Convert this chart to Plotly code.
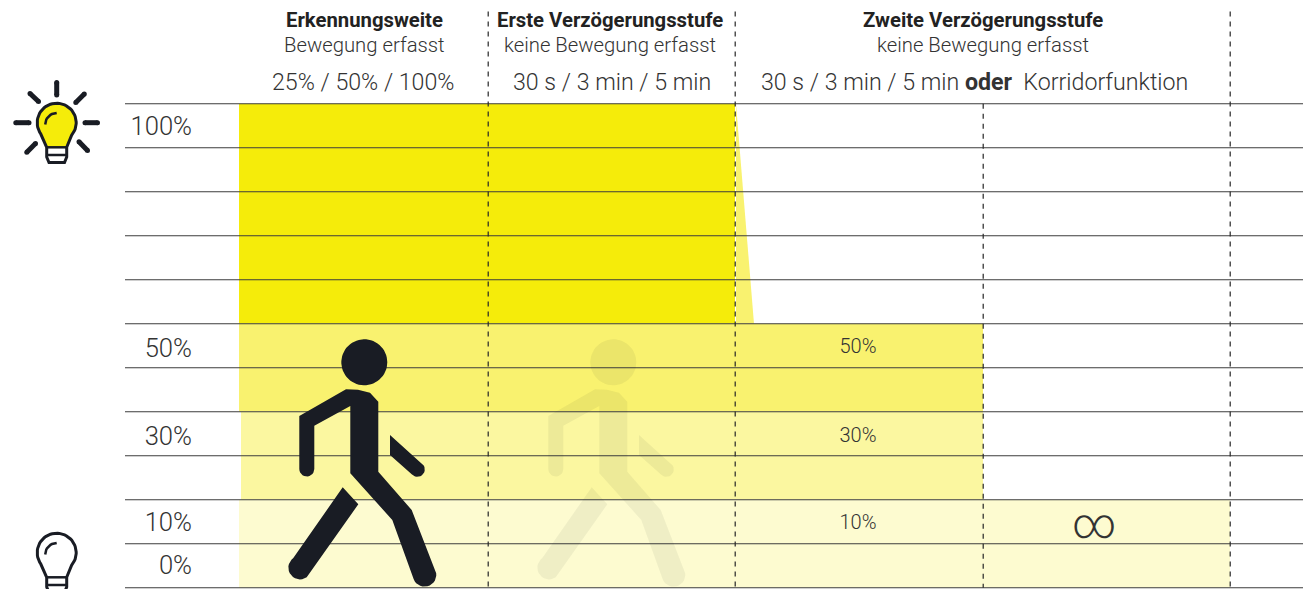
import numpy as np
import plotly.graph_objects as go

# --- data -------------------------------------------------------------
level_ticks = [100, 50, 30, 10, 0]
tick_labels = ["100%", "50%", "30%", "10%", "0%"]
tick_y = [94.3, 43.9, 23.9, 4.4, -5.5]
grid_levels = [100, 90, 80, 70, 60, 50, 40, 30, 20, 10, 0, -10]

band_start = [239, 239, 241, 239]
band_end = [735, 983, 983, 1230]
band_top = [100, 50, 30, 10]
band_bottom = [50, 30, 10, -10]
band_colors = ["#F5EC0A", "#F9F26F", "#FBF7A0", "#FDFBD0"]

fade_x = [736, 754, 736]
fade_y = [100, 50, 50]

inner_labels = ["50%", "30%", "10%"]
inner_y = [44.5, 24.3, 4.6]

dash_x = [488.2, 735.2, 1230.2, 983.2]
dash_top = [121, 121, 121, 100]

col_center = [364, 610, 983]
col_title = ["Erkennungsweite", "Erste Verzögerungsstufe", "Zweite Verzögerungsstufe"]
col_sub = ["Bewegung erfasst", "keine Bewegung erfasst", "keine Bewegung erfasst"]
col_detail = ["25% / 50% / 100%", "30 s / 3 min / 5 min",
              "30 s / 3 min / 5 min <b>oder</b>  Korridorfunktion"]
col_detail_x = [363, 612, 974]

FONT = "Roboto"
TXT = "#333333"
DARK = "#191C24"


def arc(cx, cy, r, a0, a1, n=24):
    t = np.radians(np.linspace(a0, a1, n))
    return list(cx + r * np.cos(t)), list(cy + r * np.sin(t))


def person(dx=0):
    parts = []
    hx, hy = arc(364.3, 362.3, 23, 0, 360, 60)
    parts.append((hx, hy))
    # body + rear arm + leading leg
    cx1, cy1 = arc(306.8, 469, 7.5, 0, 180, 14)
    cx2, cy2 = arc(424.6, 575, 11.7, -20, 160, 16)
    bx = [299.3, 346, 358, 370, 378.3, 378.3, 411.7] + cx2 + [392.3, 350.3, 350.3, 314.3] + cx1
    by = [416, 389.3, 389.8, 392.7, 401.7, 471.7, 510] + cy2 + [520, 473.3, 406, 425.7] + cy1
    parts.append((bx, by))
    # front arm
    ax, ay = arc(417.3, 469.3, 7.5, -45, 135, 14)
    parts.append(([390] + ax + [390], [435] + ay + [455]))
    # trailing leg
    lx, ly = arc(300, 567.7, 11.7, 55, 235, 16)
    parts.append(([342.7, 358.3] + lx, [487.3, 504.3] + ly))
    xs, ys = [], []
    for px, py in parts:
        xs += [v + dx for v in px] + [px[0] + dx, None]
        ys += list(py) + [py[0], None]
    return xs, ys


def bulb(dy=0):
    hx, hy = arc(56.7, 122.7, 19.5, 140, 400, 50)
    x = [46.7] + hx + [66.7, 66.7, 64.5, 49, 46.7, 46.7]
    y = [147.3] + hy + [147.3, 157, 162.5, 162.5, 157, 147.3]
    return x, [v + dy for v in y]


def bulb_head(dy=0):
    hx, hy = arc(56.7, 122.7, 19.5, 140, 400, 50)
    return [46.7] + hx + [66.7, 46.7], [v + dy for v in [147.3] + hy + [147.3, 147.3]]


def divider(dy=0):
    return [46.7, 66.7], [155 + dy, 155 + dy]


def highlight(dy=0):
    hx, hy = arc(56.7, 124.5, 11.5, 180, 270, 12)
    return hx, [v + dy for v in hy]


rays = [((56.7, 82.5), (56.7, 95)), ((30, 93.5), (38.5, 101.5)), ((84.3, 94), (75.8, 102.5)),
        ((15.8, 122.7), (29, 122.7)), ((85, 122.7), (97.5, 122.7)),
        ((26.8, 152.2), (35.5, 143.5)), ((87.5, 150.5), (79, 141.8))]

fig = go.Figure()

# bands
for x0, x1, t, b, c in zip(band_start, band_end, band_top, band_bottom, band_colors):
    fig.add_trace(go.Scatter(x=[x0, x1, x1, x0, x0], y=[t, t, b, b, t], mode="lines",
                             line=dict(width=0), fill="toself", fillcolor=c, hoverinfo="skip"))
fig.add_trace(go.Scatter(x=fade_x + fade_x[:1], y=fade_y + fade_y[:1], mode="lines",
                         line=dict(width=0), fill="toself", fillcolor=band_colors[1], hoverinfo="skip"))

# persons
for dx, op in [(249, 0.06), (0, 1)]:
    px, py = person(dx)
    fig.add_trace(go.Scatter(x=px, y=py, xaxis="x2", yaxis="y2", mode="lines", line=dict(width=0),
                             fill="toself", fillcolor=DARK, opacity=op, hoverinfo="skip"))

# grid lines
gx, gy = [], []
for v in grid_levels:
    gx += [125, 1303, None]
    gy += [v, v, None]
fig.add_trace(go.Scatter(x=gx, y=gy, mode="lines", line=dict(color="#3c3c3c", width=1.1), hoverinfo="skip"))

# dashed separators
for x, t in zip(dash_x, dash_top):
    fig.add_trace(go.Scatter(x=[x, x], y=[t, -10], mode="lines",
                             line=dict(color="#262626", width=1.2, dash="5px,5px"), hoverinfo="skip"))

# bulb icons
for dy, fill in [(0, "#F5EC0A"), (430, "rgba(0,0,0,0)")]:
    hx, hy = bulb_head(dy)
    fig.add_trace(go.Scatter(x=hx, y=hy, xaxis="x2", yaxis="y2", mode="lines", line=dict(width=0),
                             fill="toself", fillcolor=fill, hoverinfo="skip"))
    ox, oy = bulb(dy)
    fig.add_trace(go.Scatter(x=ox, y=oy, xaxis="x2", yaxis="y2", mode="lines",
                             line=dict(color=DARK, width=3), hoverinfo="skip"))
    fig.add_trace(go.Scatter(x=[46.7, 66.7], y=[147.3 + dy, 147.3 + dy], xaxis="x2", yaxis="y2", mode="lines",
                             line=dict(color=DARK, width=2.5), hoverinfo="skip"))
    dx_, dy_ = divider(dy)
    fig.add_trace(go.Scatter(x=dx_, y=dy_, xaxis="x2", yaxis="y2", mode="lines",
                             line=dict(color=DARK, width=2.5), hoverinfo="skip"))
    hx, hy = highlight(dy)
    fig.add_trace(go.Scatter(x=hx, y=hy, xaxis="x2", yaxis="y2", mode="lines",
                             line=dict(color=DARK, width=2.5), hoverinfo="skip"))
for a, b in rays:
    fig.add_trace(go.Scatter(x=[a[0], b[0]], y=[a[1], b[1]], xaxis="x2", yaxis="y2", mode="lines+markers",
                             line=dict(color=DARK, width=5), marker=dict(color=DARK, size=5), hoverinfo="skip"))

# level labels
fig.add_trace(go.Scatter(x=[192] * len(level_ticks), y=tick_y, mode="text",
                         text=tick_labels, textposition="middle left",
                         textfont=dict(family=FONT, size=25.6, color=TXT, weight=300), hoverinfo="skip"))
fig.add_trace(go.Scatter(x=[858] * len(inner_labels), y=inner_y, mode="text", text=inner_labels,
                         textposition="middle center",
                         textfont=dict(family=FONT, size=20, color=TXT, weight=300), hoverinfo="skip"))

# annotations
ann = []
for c, t, s, d, dx in zip(col_center, col_title, col_sub, col_detail, col_detail_x):
    ann.append(dict(x=c, y=20, text=f"<b>{t}</b>", font=dict(family=FONT, size=20.3, color="#222222")))
    ann.append(dict(x=c, y=45, text=s, font=dict(family=FONT, size=20.3, color=TXT, weight=300)))
    ann.append(dict(x=dx, y=82, text=d, font=dict(family=FONT, size=23.2, color=TXT, weight=300)))
ann.append(dict(x=1094, y=523, text="∞", font=dict(family=FONT, size=42, color=TXT, weight=300)))
for a in ann:
    a.update(xref="x2", yref="y2", showarrow=False, xanchor="center", yanchor="middle")

fig.update_layout(
    width=1303, height=589, margin=dict(l=0, r=0, t=0, b=0),
    paper_bgcolor="white", plot_bgcolor="white", showlegend=False, annotations=ann,
    xaxis=dict(range=[0, 1303], visible=False, fixedrange=True),
    yaxis=dict(range=[(543.8 - 589) / 4.4, 543.8 / 4.4], visible=False, fixedrange=True),
    xaxis2=dict(range=[0, 1303], visible=False, overlaying="x", fixedrange=True, anchor="y2"),
    yaxis2=dict(range=[589, 0], visible=False, overlaying="y", fixedrange=True, anchor="x2"),
)

fig.write_html("out.html", config={"displayModeBar": False},
               post_script="document.body.style.margin='0';document.body.style.overflow='hidden';")
